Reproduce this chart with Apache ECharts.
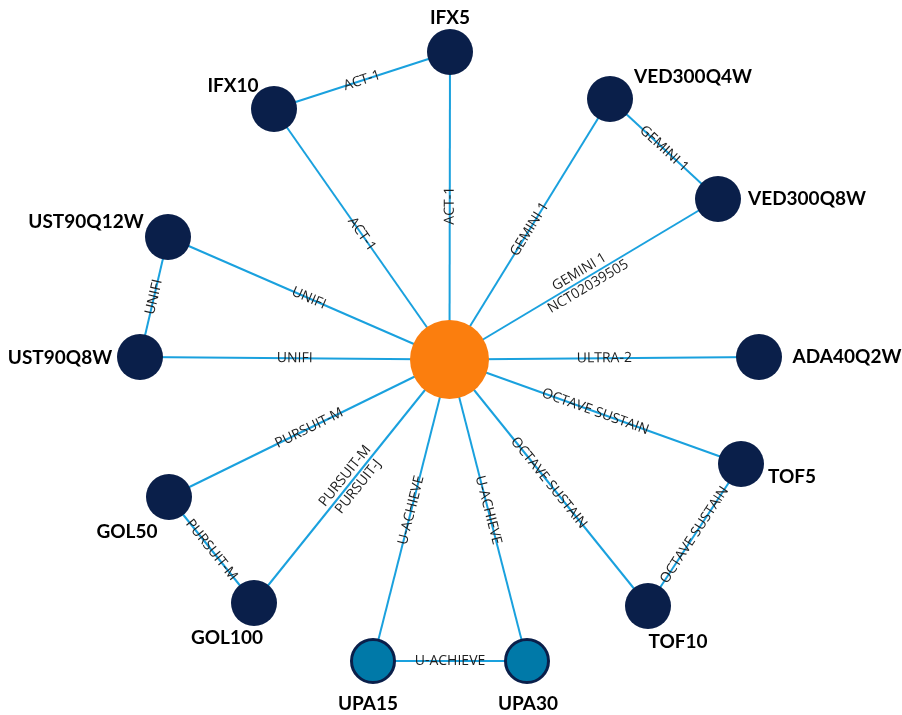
<!DOCTYPE html>
<html>
<head>
<meta charset="utf-8">
<script src="https://cdn.jsdelivr.net/npm/echarts@6/dist/echarts.min.js"></script>
<style>html,body{margin:0;padding:0;background:#fff}#c{width:902px;height:715px}</style>
</head>
<body>
<div id="c"></div>
<script>
// Nodes
const nodeNames = ['HUB','IFX5','IFX10','VED300Q4W','VED300Q8W','UST90Q12W','UST90Q8W','ADA40Q2W','TOF5','TOF10','GOL50','GOL100','UPA15','UPA30'];
const nodeX =     [449.5, 450, 274, 610, 718, 168, 140, 759, 741, 648, 169, 254, 373, 527];
const nodeY =     [359.5, 52, 109, 99, 199, 237, 357, 357, 464, 606, 497, 603, 661, 661];
const nodeGroup = ['hub','drug','drug','drug','drug','drug','drug','drug','drug','drug','drug','drug','upa','upa'];
// label offsets (text centre relative to node centre)
const labelDX =   [0, 0, -41, 83, 89, -82, -80, 88, 51, 30, -42, -27, -5, 1];
const labelDY =   [0, -34, -23, -22, 0, -15, 1, 0, 13, 36, 35, 35, 43, 43];

// Edges
const edgeSource = ['HUB','HUB','IFX10','HUB','VED300Q4W','HUB','HUB','HUB','TOF5','HUB','HUB','UPA15','HUB','HUB','GOL50','HUB','HUB','UST90Q12W','HUB'];
const edgeTarget = ['IFX5','IFX10','IFX5','VED300Q4W','VED300Q8W','VED300Q8W','ADA40Q2W','TOF5','TOF10','TOF10','UPA30','UPA30','UPA15','GOL100','GOL100','GOL50','UST90Q8W','UST90Q8W','UST90Q12W'];
const edgeStudy = ['ACT-1','ACT-1','ACT-1','GEMINI 1','GEMINI 1','GEMINI 1\nNCT02039505','ULTRA-2','OCTAVE SUSTAIN','OCTAVE SUSTAIN','OCTAVE SUSTAIN','U-ACHIEVE','U-ACHIEVE','U-ACHIEVE','PURSUIT-M\nPURSUIT-J','PURSUIT-M','PURSUIT-M','UNIFI','UNIFI','UNIFI'];

const styles = {
  hub: {size: 79, color: '#FB7E0E', border: '#FB7E0E', bw: 0},
  drug: {size: 46, color: '#0A1F4A', border: '#0A1F4A', bw: 0},
  upa: {size: 46, color: '#0079A8', border: '#0A1F4A', bw: 3}
};

const nodes = nodeNames.map((n, i) => {
  const s = styles[nodeGroup[i]];
  return {
    name: n,
    value: [nodeX[i], nodeY[i]],
    symbolSize: s.bw ? s.size - s.bw : s.size,
    itemStyle: {color: s.color, borderColor: s.border, borderWidth: s.bw},
    label: {
      show: nodeGroup[i] !== 'hub',
      position: 'inside',
      align: 'center',
      verticalAlign: 'middle',
      offset: [labelDX[i], labelDY[i]]
    }
  };
});

const links = edgeSource.map((s, i) => ({source: s, target: edgeTarget[i], study: edgeStudy[i]}));

const chart = echarts.init(document.getElementById('c'));
chart.setOption({
  backgroundColor: '#ffffff',
  animation: false,
  grid: {left: 0, right: 0, top: 0, bottom: 0},
  xAxis: {type: 'value', min: 0, max: 902, show: false},
  yAxis: {type: 'value', min: 0, max: 715, inverse: true, show: false},
  series: [{
    type: 'graph',
    coordinateSystem: 'cartesian2d',
    symbol: 'circle',
    data: nodes,
    links: links,
    label: {
      color: '#000',
      fontFamily: 'Lato',
      fontWeight: 'bold',
      fontSize: 19
    },
    lineStyle: {color: '#1AA1DE', width: 2, opacity: 1, curveness: 0},
    edgeLabel: {
      show: true,
      position: 'middle',
      distance: 0,
      verticalAlign: 'middle',
      align: 'center',
      formatter: p => p.data.study,
      color: '#1e1e1e',
      fontFamily: 'Open Sans',
      fontSize: 14,
      lineHeight: 17
    },
    emphasis: {disabled: true}
  }]
});
</script>
</body>
</html>
